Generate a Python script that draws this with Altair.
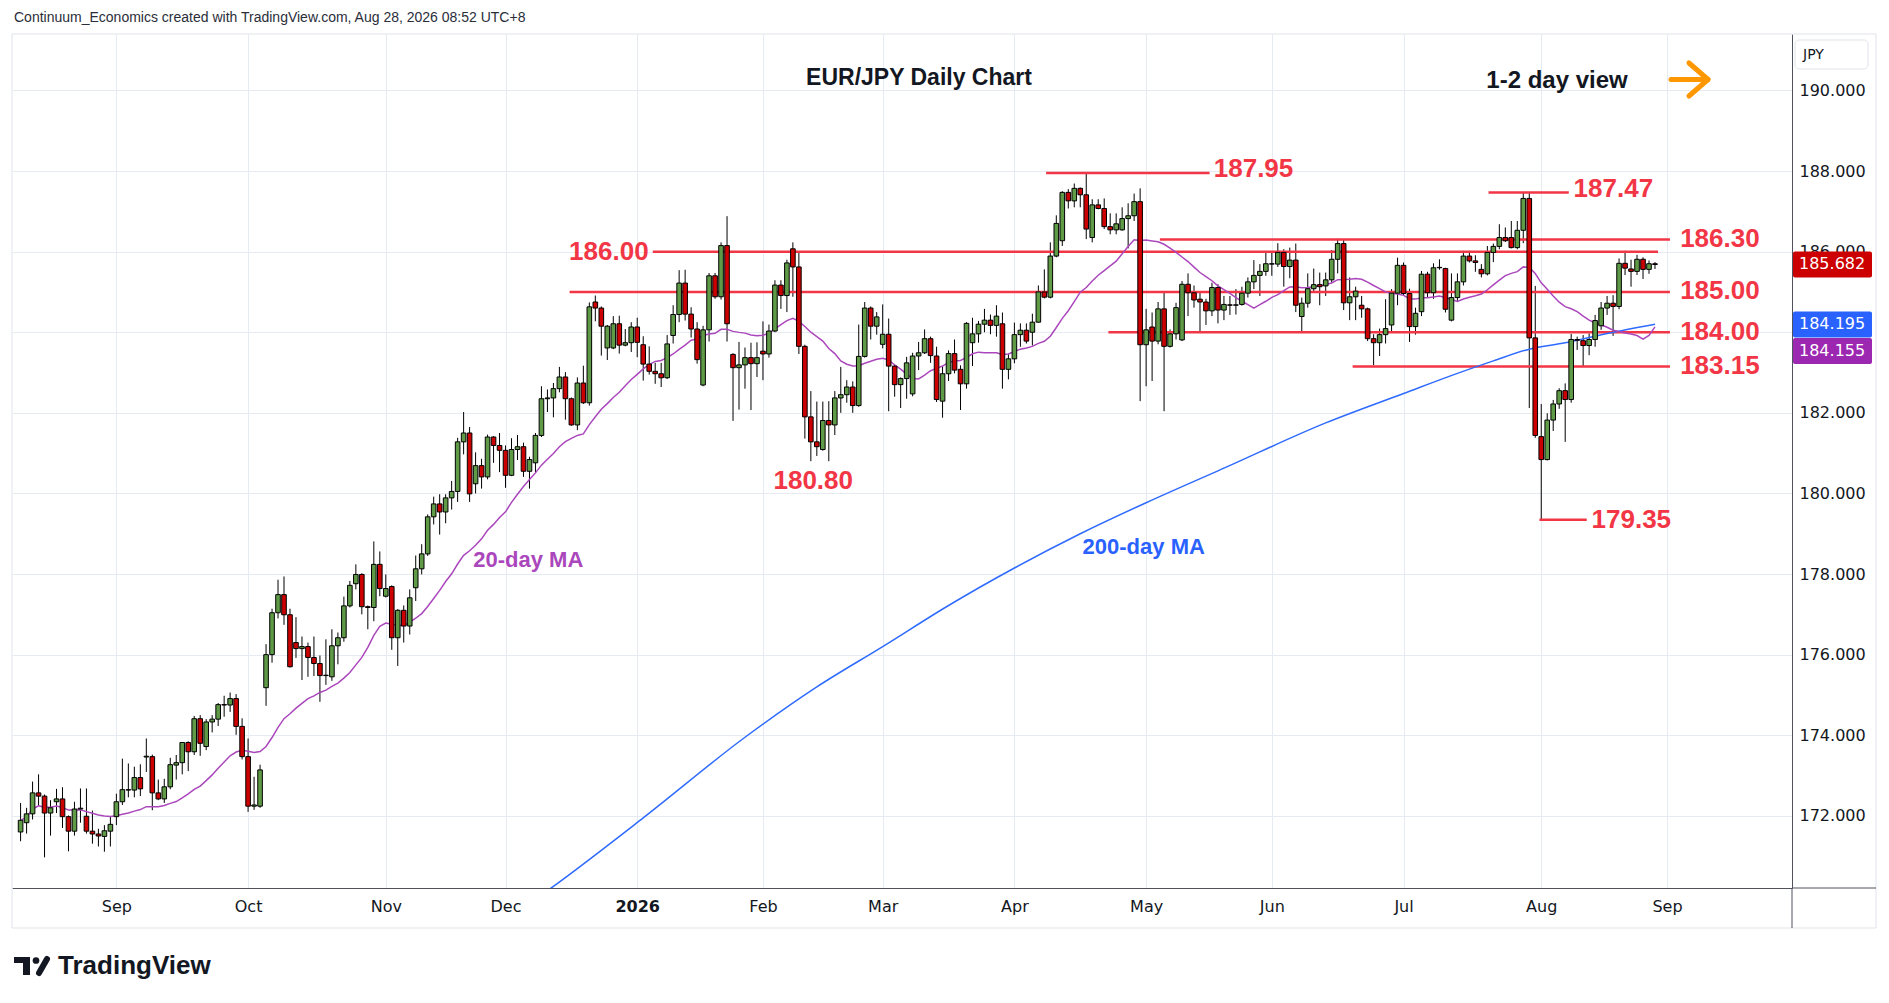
import json
import altair as alt
import pandas as pd

# ---------------- data ----------------
opens = [
    171.60, 171.83, 172.05, 172.57, 172.49, 172.07, 172.35, 172.42, 171.98, 171.62,
    172.17, 171.99, 171.62, 171.55, 171.49, 171.62, 171.98, 172.35, 172.64, 172.64,
    172.95, 173.46, 173.47, 172.57, 172.42, 172.72, 173.26, 173.32, 173.82, 173.59,
    174.41, 173.72, 174.33, 174.40, 174.76, 174.75, 174.91, 174.22, 173.47, 172.24,
    172.24, 175.18, 176.00, 177.04, 177.49, 176.99, 176.30, 176.15, 176.20, 175.93,
    175.78, 175.49, 175.45, 176.22, 176.42, 177.21, 177.76, 177.99, 177.19, 177.17,
    178.24, 177.45, 177.69, 176.42, 177.10, 176.71, 177.66, 178.13, 178.50, 179.42,
    179.74, 179.54, 179.89, 180.05, 181.28, 181.50, 180.24, 180.69, 180.41, 181.40,
    181.19, 181.07, 180.45, 181.09, 181.16, 180.55, 180.76, 181.44, 182.35, 182.37,
    182.60, 182.89, 182.35, 181.70, 182.74, 182.25, 184.75, 184.60, 183.61, 183.61,
    184.21, 183.68, 183.74, 184.13, 183.69, 183.21, 183.03, 182.97, 182.87, 183.92,
    184.44, 185.22, 184.45, 184.08, 182.69, 184.06, 185.40, 184.88, 186.15, 183.45,
    183.12, 183.19, 183.37, 183.22, 183.53, 183.46, 184.03, 185.17, 184.91, 186.07,
    185.62, 183.65, 181.90, 181.28, 181.09, 181.81, 181.70, 182.37, 182.45, 182.64,
    182.18, 183.40, 184.60, 184.15, 183.70, 183.95, 183.16, 182.70, 182.85, 182.47,
    183.41, 183.49, 183.84, 183.41, 182.29, 182.97, 183.47, 183.08, 182.72, 183.74,
    183.96, 184.20, 184.30, 184.17, 184.21, 183.08, 183.34, 183.94, 184.05, 184.00,
    184.25, 185.00, 184.87, 185.89, 186.27, 187.47, 187.26, 187.57, 187.41, 186.35,
    187.16, 187.07, 186.62, 186.54, 186.54, 186.82, 186.89, 187.24, 183.69, 184.13,
    183.78, 184.58, 183.65, 183.96, 183.81, 185.19, 184.98, 184.82, 184.75, 184.53,
    185.11, 184.55, 184.68, 184.67, 184.69, 184.97, 185.25, 185.41, 185.51, 185.69,
    185.69, 185.98, 185.63, 185.79, 184.39, 184.72, 185.08, 185.18, 185.15, 185.30,
    185.81, 186.20, 184.73, 184.88, 184.67, 184.58, 183.84, 183.74, 183.94, 184.18,
    184.97, 185.66, 184.96, 184.14, 184.51, 185.44, 184.98, 185.61, 185.58, 184.30,
    184.86, 185.25, 185.89, 185.77, 185.56, 185.45, 185.98, 186.13, 186.35, 186.35,
    186.10, 186.53, 187.32, 183.86, 181.41, 180.84, 181.82, 182.22, 182.55, 182.33,
    183.82, 183.79, 183.67, 183.82, 184.16, 184.60, 184.72, 184.64, 185.71, 185.57,
    185.51, 185.81, 185.56, 185.70,
]
highs = [
    172.32, 172.20, 172.85, 173.03, 172.53, 172.39, 172.67, 172.71, 172.01, 172.35,
    172.68, 172.68, 172.13, 171.68, 171.77, 171.99, 172.55, 173.42, 173.30, 173.22,
    173.28, 173.92, 173.52, 172.90, 172.92, 173.44, 173.51, 173.83, 173.85, 174.48,
    174.50, 174.40, 174.50, 174.80, 174.98, 175.06, 175.02, 174.42, 173.92, 172.97,
    173.27, 176.26, 177.14, 177.86, 177.94, 177.14, 176.93, 176.45, 176.30, 176.45,
    175.98, 176.38, 176.63, 176.55, 177.44, 177.83, 178.24, 178.02, 177.22, 178.81,
    178.56, 177.99, 177.72, 177.13, 177.22, 177.62, 178.46, 178.74, 179.48, 179.92,
    179.98, 179.98, 180.31, 181.38, 182.02, 181.65, 181.02, 180.86, 181.46, 181.42,
    181.50, 181.19, 181.37, 181.45, 181.26, 180.91, 181.50, 182.66, 182.58, 182.74,
    183.14, 183.01, 182.38, 182.88, 183.17, 184.74, 184.91, 184.64, 184.18, 184.40,
    184.41, 184.08, 184.25, 184.36, 183.90, 183.65, 183.24, 183.24, 183.93, 184.67,
    185.54, 185.55, 184.62, 184.25, 184.16, 185.47, 185.47, 186.23, 186.88, 183.48,
    183.76, 183.62, 183.74, 183.75, 184.27, 184.19, 185.29, 185.29, 185.80, 186.23,
    186.01, 183.69, 182.54, 182.28, 182.28, 182.29, 182.54, 183.14, 182.81, 182.78,
    184.19, 184.75, 184.64, 184.50, 184.69, 184.34, 183.20, 182.88, 183.39, 183.49,
    183.76, 184.07, 183.89, 183.64, 183.16, 183.55, 183.82, 183.18, 184.25, 184.36,
    184.28, 184.58, 184.44, 184.67, 184.49, 183.47, 184.24, 184.22, 184.22, 184.46,
    185.16, 185.56, 186.23, 186.90, 187.50, 187.55, 187.69, 187.59, 187.95, 187.30,
    187.30, 187.32, 186.95, 186.95, 187.10, 187.20, 187.44, 187.57, 184.58, 184.49,
    184.75, 185.02, 184.07, 184.73, 185.27, 185.46, 185.16, 184.98, 184.83, 185.23,
    185.19, 184.90, 184.90, 185.07, 185.13, 185.36, 185.79, 185.69, 185.98, 185.98,
    186.21, 186.06, 186.10, 186.20, 184.86, 185.46, 185.58, 185.48, 185.48, 186.04,
    186.32, 186.31, 185.36, 185.13, 184.90, 184.61, 183.95, 184.09, 184.82, 185.07,
    185.85, 185.73, 185.08, 184.61, 185.52, 185.50, 185.71, 185.81, 185.60, 185.46,
    185.46, 186.02, 186.02, 185.91, 185.69, 186.14, 186.20, 186.68, 186.60, 186.76,
    186.76, 187.47, 187.47, 185.15, 182.22, 181.99, 182.32, 182.61, 182.73, 183.96,
    183.89, 183.93, 183.97, 184.43, 184.75, 184.90, 184.92, 185.83, 186.02, 185.80,
    185.92, 185.86, 185.78, 185.74,
]
lows = [
    171.37, 171.56, 171.91, 172.24, 170.97, 171.51, 172.07, 171.70, 171.12, 171.51,
    171.83, 171.56, 171.31, 171.24, 171.11, 171.24, 171.77, 172.27, 172.46, 172.46,
    172.49, 173.09, 172.14, 172.39, 172.32, 172.66, 172.90, 173.03, 173.11, 173.51,
    173.49, 173.63, 174.07, 174.23, 174.46, 174.58, 174.01, 173.40, 172.10, 172.15,
    172.20, 174.73, 175.80, 176.90, 176.74, 175.68, 175.92, 175.37, 175.45, 175.47,
    174.83, 175.25, 175.35, 175.76, 176.32, 177.17, 177.62, 177.00, 176.63, 176.83,
    177.45, 177.42, 176.12, 175.72, 176.30, 176.50, 177.33, 177.99, 178.45, 179.23,
    178.98, 179.26, 179.60, 179.79, 180.97, 179.79, 180.00, 180.12, 180.35, 180.76,
    180.53, 180.14, 180.43, 180.83, 180.41, 180.12, 180.51, 181.40, 182.02, 181.89,
    182.51, 181.83, 181.68, 181.57, 182.22, 182.18, 184.27, 183.42, 183.31, 183.58,
    183.47, 183.65, 183.51, 183.38, 182.80, 182.95, 182.72, 182.64, 182.84, 183.72,
    184.25, 184.29, 183.87, 183.22, 182.66, 183.77, 184.83, 184.81, 183.77, 181.80,
    182.08, 182.60, 182.07, 182.89, 182.81, 183.37, 184.00, 184.58, 184.50, 184.88,
    183.46, 181.36, 180.80, 180.93, 181.06, 180.80, 181.45, 182.00, 182.25, 182.00,
    182.15, 183.37, 183.82, 183.94, 183.60, 182.04, 182.40, 182.12, 182.35, 182.41,
    183.06, 183.46, 183.24, 182.27, 181.88, 182.79, 182.98, 182.07, 182.60, 183.16,
    183.74, 184.00, 183.95, 183.89, 182.60, 182.83, 183.23, 183.64, 183.72, 183.67,
    184.24, 184.84, 184.84, 185.86, 186.14, 187.07, 187.10, 187.10, 186.31, 186.23,
    187.05, 186.56, 186.43, 186.43, 186.52, 186.08, 186.76, 182.29, 182.66, 182.79,
    183.70, 182.04, 183.62, 183.82, 183.78, 184.40, 184.61, 184.03, 184.18, 184.40,
    184.22, 184.30, 184.43, 184.44, 184.66, 184.86, 185.07, 184.90, 185.40, 185.40,
    185.62, 185.13, 185.34, 184.50, 183.99, 184.61, 184.98, 184.67, 184.90, 185.23,
    185.46, 184.55, 184.30, 184.30, 184.36, 183.78, 183.18, 183.41, 183.72, 184.03,
    184.67, 184.90, 183.76, 183.94, 184.40, 184.86, 184.83, 185.55, 184.49, 184.27,
    184.78, 185.16, 185.73, 185.50, 185.36, 185.41, 185.74, 186.06, 186.24, 186.08,
    186.06, 186.21, 182.12, 181.38, 179.35, 180.82, 181.55, 182.10, 181.28, 182.25,
    183.56, 183.14, 183.43, 183.64, 184.06, 184.43, 183.91, 184.57, 185.42, 185.13,
    185.42, 185.32, 185.45, 185.57,
]
closes = [
    171.89, 172.05, 172.57, 172.49, 172.07, 172.20, 172.42, 171.98, 171.62, 172.17,
    172.19, 171.62, 171.55, 171.50, 171.63, 171.79, 172.35, 172.65, 172.65, 172.95,
    172.67, 173.48, 172.57, 172.42, 172.72, 173.27, 173.32, 173.82, 173.59, 174.41,
    173.80, 174.33, 174.40, 174.76, 174.75, 174.91, 174.22, 173.47, 172.24, 172.27,
    173.14, 176.00, 177.04, 177.49, 176.99, 175.70, 176.15, 176.20, 175.93, 175.78,
    175.48, 175.48, 176.22, 176.42, 177.21, 177.72, 177.99, 177.19, 177.17, 178.24,
    177.64, 177.64, 176.42, 177.10, 176.71, 177.41, 178.13, 178.50, 179.42, 179.74,
    179.54, 179.89, 180.05, 181.28, 181.50, 179.99, 180.69, 180.41, 181.40, 181.19,
    181.07, 180.45, 181.09, 181.16, 180.55, 180.84, 181.44, 182.35, 182.37, 182.60,
    182.89, 182.35, 181.70, 182.74, 182.25, 184.63, 184.60, 184.15, 184.15, 184.21,
    183.68, 183.74, 184.13, 183.75, 183.21, 183.03, 182.97, 182.87, 183.71, 184.44,
    185.22, 184.45, 184.08, 183.32, 184.06, 185.40, 184.88, 186.15, 184.21, 183.12,
    183.19, 183.37, 183.22, 183.37, 183.46, 184.03, 185.17, 184.91, 185.72, 185.62,
    183.65, 181.90, 181.28, 181.16, 181.81, 181.70, 182.37, 182.45, 182.64, 182.18,
    183.40, 184.60, 184.15, 184.38, 183.95, 183.16, 182.70, 182.85, 183.24, 183.41,
    183.49, 183.84, 183.42, 182.33, 182.97, 183.47, 183.06, 182.72, 184.22, 183.96,
    184.20, 184.30, 184.17, 184.40, 183.08, 183.34, 183.94, 184.05, 183.78, 184.25,
    185.00, 184.87, 185.89, 186.70, 187.47, 187.26, 187.57, 187.41, 186.56, 187.16,
    187.07, 186.62, 186.54, 186.69, 186.82, 186.89, 187.24, 183.69, 184.06, 183.78,
    184.58, 183.65, 183.96, 184.61, 185.19, 184.98, 184.80, 184.75, 184.53, 185.11,
    184.55, 184.69, 184.67, 184.68, 184.97, 185.25, 185.41, 185.51, 185.70, 185.70,
    185.98, 185.63, 185.79, 184.67, 184.72, 185.08, 185.18, 185.13, 185.30, 185.81,
    186.20, 184.73, 184.88, 185.02, 184.58, 183.84, 183.74, 183.94, 184.09, 184.97,
    185.66, 184.96, 184.14, 184.47, 185.44, 184.98, 185.60, 185.60, 184.57, 184.86,
    185.25, 185.89, 185.77, 185.73, 185.45, 185.98, 186.13, 186.35, 186.27, 186.10,
    186.53, 187.32, 183.86, 181.44, 180.84, 181.82, 182.22, 182.55, 182.33, 183.82,
    183.80, 183.67, 183.82, 184.29, 184.60, 184.72, 184.64, 185.71, 185.59, 185.51,
    185.81, 185.56, 185.70, 185.68,
]

# month labels (bar position of first trading day of each month)
month_pos = [17, 39, 62, 82, 104, 125, 145, 167, 189, 210, 232, 255, 276]
month_names = ["Sep", "Oct", "Nov", "Dec", "2026", "Feb", "Mar", "Apr",
               "May", "Jun", "Jul", "Aug", "Sep"]
price_ticks = [172, 174, 176, 178, 180, 182, 184, 186, 188, 190]
hidden_tick = 184  # its label sits behind the price tags

# 200-day moving average (bar, value)
ma200_bar = [80, 90, 105, 122, 134, 145, 156, 167, 178, 189, 197, 201,
             219, 232, 241, 247, 253, 259, 266, 274]
ma200_val = [169.20, 170.25, 171.95, 173.95, 175.20, 176.20, 177.22, 178.15,
             179.00, 179.77, 180.30, 180.56, 181.75, 182.48, 182.98, 183.29,
             183.58, 183.74, 183.97, 184.20]

# horizontal support / resistance levels and their extent (bars)
level_vals = [187.95, 187.47, 186.30, 186.00, 185.00, 184.00, 183.15, 179.35]
level_start = [172.3, 246.2, 191.3, 106.6, 92.7, 182.7, 223.5, 254.7]
level_end = [199.6, 259.6, 276.5, 274.5, 276.5, 276.5, 276.5, 262.6]

# level labels: text, anchor bar, anchor price
lab_left_text = ["187.95", "187.47", "186.30", "185.00", "184.00", "183.15", "179.35"]
lab_left_bar = [200.3, 260.4, 278.2, 278.2, 278.2, 278.2, 263.4]
lab_left_price = [188.04, 187.55, 186.32, 185.02, 184.00, 183.15, 179.35]
lab_right_text = ["186.00"]
lab_right_bar = [105.9]
lab_right_price = [186.00]
lab_center_text = ["180.80"]
lab_center_bar = [133.4]
lab_center_price = [180.32]

ma_lab_text = ["20-day MA", "200-day MA"]
ma_lab_bar = [85.8, 188.6]
ma_lab_price = [178.34, 178.66]

tag_vals = [185.682, 184.195, 184.155]

# ---------------- styling ----------------
W, H = 1780, 854
GREEN = "#5f9b47"
RED = "#cc0000"
LEVEL = "#f23645"
PURPLE = "#ab47bc"
BLUE = "#2f6bff"
GRID = "#e6ebf3"
AXIS = "#50535e"
TXT = "#131722"
FONT = "Liberation Sans"
AXFONT = "DejaVu Sans"

xs = alt.Scale(domain=[0.4, 296.05], nice=False, zero=False)
ys = alt.Scale(domain=[170.21, 191.4], nice=False, zero=False)

label_expr = f"{json.dumps(month_names)}[indexof({json.dumps(month_pos)}, datum.value)]"
ylabel_expr = f"datum.value == {hidden_tick} ? '' : format(datum.value, '.3f')"

x_axis = alt.Axis(values=month_pos, labelExpr=label_expr, title=None, grid=True,
                  gridColor=GRID, gridWidth=1, ticks=False, domain=True,
                  domainColor=AXIS, labelFont=AXFONT, labelFontSize=16,
                  labelColor=TXT, labelPadding=10, labelOverlap=False,
                  labelFontWeight={"condition": {"test": "datum.value == 104", "value": "bold"},
                                   "value": "normal"})
y_axis = alt.Axis(orient="right", values=price_ticks, labelExpr=ylabel_expr, title=None,
                  grid=True, gridColor=GRID, gridWidth=1, ticks=False, domain=True,
                  domainColor=AXIS, labelFont=AXFONT, labelFontSize=16,
                  labelColor=TXT, labelPadding=7, labelOverlap=False)

df = pd.DataFrame({"bar": list(range(1, len(opens) + 1)), "open": opens,
                   "high": highs, "low": lows, "close": closes})
ma200_df = pd.DataFrame({"bar": ma200_bar, "ma": ma200_val})
lev_df = pd.DataFrame({"level": level_vals, "start": level_start, "end": level_end})
labL = pd.DataFrame({"t": lab_left_text, "bar": lab_left_bar, "p": lab_left_price})
labR = pd.DataFrame({"t": lab_right_text, "bar": lab_right_bar, "p": lab_right_price})
labC = pd.DataFrame({"t": lab_center_text, "bar": lab_center_bar, "p": lab_center_price})
ma_lab = pd.DataFrame({"t": ma_lab_text, "bar": ma_lab_bar, "p": ma_lab_price,
                       "c": [PURPLE, "#2962ff"]})
one = pd.DataFrame({"k": [0]})

# every layer bound to the scales carries the same axis definition
X = lambda f: alt.X(f, type="quantitative", scale=xs, axis=x_axis)
Y = lambda f: alt.Y(f, type="quantitative", scale=ys, axis=y_axis)

wicks = alt.Chart(df).mark_rule(color="black", strokeWidth=1).encode(
    x=X("bar"), y=Y("low"), y2="high:Q")
bodies = alt.Chart(df).mark_bar(size=4.6, stroke="black", strokeWidth=1).encode(
    x=X("bar"), y=Y("open"), y2="close:Q",
    fill=alt.condition("datum.close >= datum.open", alt.value(GREEN), alt.value(RED)),
)
ma20 = alt.Chart(df).transform_window(
    ma20="mean(close)", frame=[-19, 0], sort=[alt.SortField("bar")]
).mark_line(color=PURPLE, strokeWidth=1.5).encode(x=X("bar"), y=Y("ma20"))
ma200 = alt.Chart(ma200_df).mark_line(color=BLUE, strokeWidth=1.5,
                                      interpolate="monotone", clip=True).encode(
    x=X("bar"), y=Y("ma"))
levels = alt.Chart(lev_df).mark_rule(color=LEVEL, strokeWidth=2.5).encode(
    x=X("start"), x2="end:Q", y=Y("level"))

def lvl_text(d, align):
    return alt.Chart(d).mark_text(font=FONT, fontSize=26, fontWeight="bold",
                                  color=LEVEL, align=align, baseline="middle").encode(
        x=X("bar"), y=Y("p"), text="t:N")

textL = lvl_text(labL, "left")
textR = lvl_text(labR, "right")
textC = lvl_text(labC, "center")
ma_text = alt.Chart(ma_lab).mark_text(font=FONT, fontSize=22, fontWeight="bold",
                                      align="center", baseline="middle").encode(
    x=X("bar"), y=Y("p"), text="t:N", color=alt.Color("c:N", scale=None))

# price tags on the right axis
def tag(val, color, off):
    d = pd.DataFrame({"p": [val], "t": [f"{val:.3f}"]})
    r = alt.Chart(d).mark_rect(color=color, yOffset=off - 13, y2Offset=off + 13,
                               cornerRadius=2).encode(
        x=alt.value(1781), x2=alt.value(1860), y=Y("p"), y2="p:Q")
    t = alt.Chart(d).mark_text(font=AXFONT, fontSize=16, color="white", align="left",
                               baseline="middle", yOffset=off).encode(
        x=alt.value(1787), y=Y("p"), text="t:N")
    return [r, t]

tags = tag(tag_vals[0], "#cc0000", 0) + tag(tag_vals[1], "#2962ff", 0) + \
    tag(tag_vals[2], "#9c27b0", 25)

# frame, axis extensions, JPY box
frame = alt.Chart(one).mark_rect(fillOpacity=0, stroke="#e0e3eb", strokeWidth=1).encode(
    x=alt.value(0), x2=alt.value(1864), y=alt.value(0), y2=alt.value(894))
ext_h = alt.Chart(one).mark_rule(color=AXIS, strokeWidth=1).encode(
    x=alt.value(1780), x2=alt.value(1864), y=alt.value(854))
ext_v = alt.Chart(one).mark_rule(color=AXIS, strokeWidth=1).encode(
    x=alt.value(1780), y=alt.value(854), y2=alt.value(894))
jpy_box = alt.Chart(one).mark_rect(fill="white", stroke="#e0e3eb", strokeWidth=1,
                                   cornerRadius=4).encode(
    x=alt.value(1783), x2=alt.value(1856), y=alt.value(6), y2=alt.value(35))
jpy_txt = alt.Chart(one).mark_text(text="JPY", font=AXFONT, fontSize=14, color=TXT,
                                   align="left", baseline="middle").encode(
    x=alt.value(1791), y=alt.value(21))

# titles
watermark = alt.Chart(one).mark_text(
    text="Continuum_Economics created with TradingView.com, Aug 28, 2026 08:52 UTC+8",
    font=FONT, fontSize=14, color="#2a2e39", align="left", baseline="middle").encode(
    x=alt.value(2), y=alt.value(-16))
title = alt.Chart(one).mark_text(text="EUR/JPY Daily Chart", font=FONT, fontSize=23,
                                 fontWeight="bold", color=TXT, align="center",
                                 baseline="middle").encode(x=alt.value(907), y=alt.value(44))
view = alt.Chart(one).mark_text(text="1-2 day view", font=FONT, fontSize=24,
                                fontWeight="bold", color=TXT, align="center",
                                baseline="middle").encode(x=alt.value(1545), y=alt.value(47))

def seg(x1, y1, x2, y2, color, w):
    return alt.Chart(one).mark_rule(color=color, strokeWidth=w, strokeCap="round").encode(
        x=alt.value(x1), y=alt.value(y1), x2=alt.value(x2), y2=alt.value(y2))

arrow = [seg(1659, 45.5, 1695, 45.5, "#ff9800", 5),
         seg(1677, 29, 1696, 45.5, "#ff9800", 5),
         seg(1677, 62, 1696, 45.5, "#ff9800", 5)]

# TradingView logo
logo = [
    alt.Chart(one).mark_rect(color=TXT).encode(x=alt.value(2), x2=alt.value(18),
                                               y=alt.value(923), y2=alt.value(929)),
    alt.Chart(one).mark_rect(color=TXT).encode(x=alt.value(11), x2=alt.value(18),
                                               y=alt.value(923), y2=alt.value(941)),
    alt.Chart(one).mark_point(filled=True, color=TXT, size=45, opacity=1).encode(
        x=alt.value(24), y=alt.value(926.5)),
    seg(27, 939, 35, 925, TXT, 6),
    alt.Chart(one).mark_text(text="TradingView", font=FONT, fontSize=26,
                             fontWeight="bold", color=TXT, align="left",
                             baseline="middle").encode(x=alt.value(46), y=alt.value(932)),
]

chart = alt.layer(
    wicks, frame, levels, ma200, ma20, bodies, textL, textR, textC, ma_text,
    *tags, ext_h, ext_v, jpy_box, jpy_txt, watermark, title, view, *arrow, *logo,
).properties(
    width=W, height=H,
    padding={"left": 4, "top": 26, "right": 85, "bottom": 100},
    autosize=alt.AutoSizeParams(type="none"),
    background="white",
).configure_view(stroke=None)

chart.save("out.html", embed_options={"renderer": "svg", "actions": False})
